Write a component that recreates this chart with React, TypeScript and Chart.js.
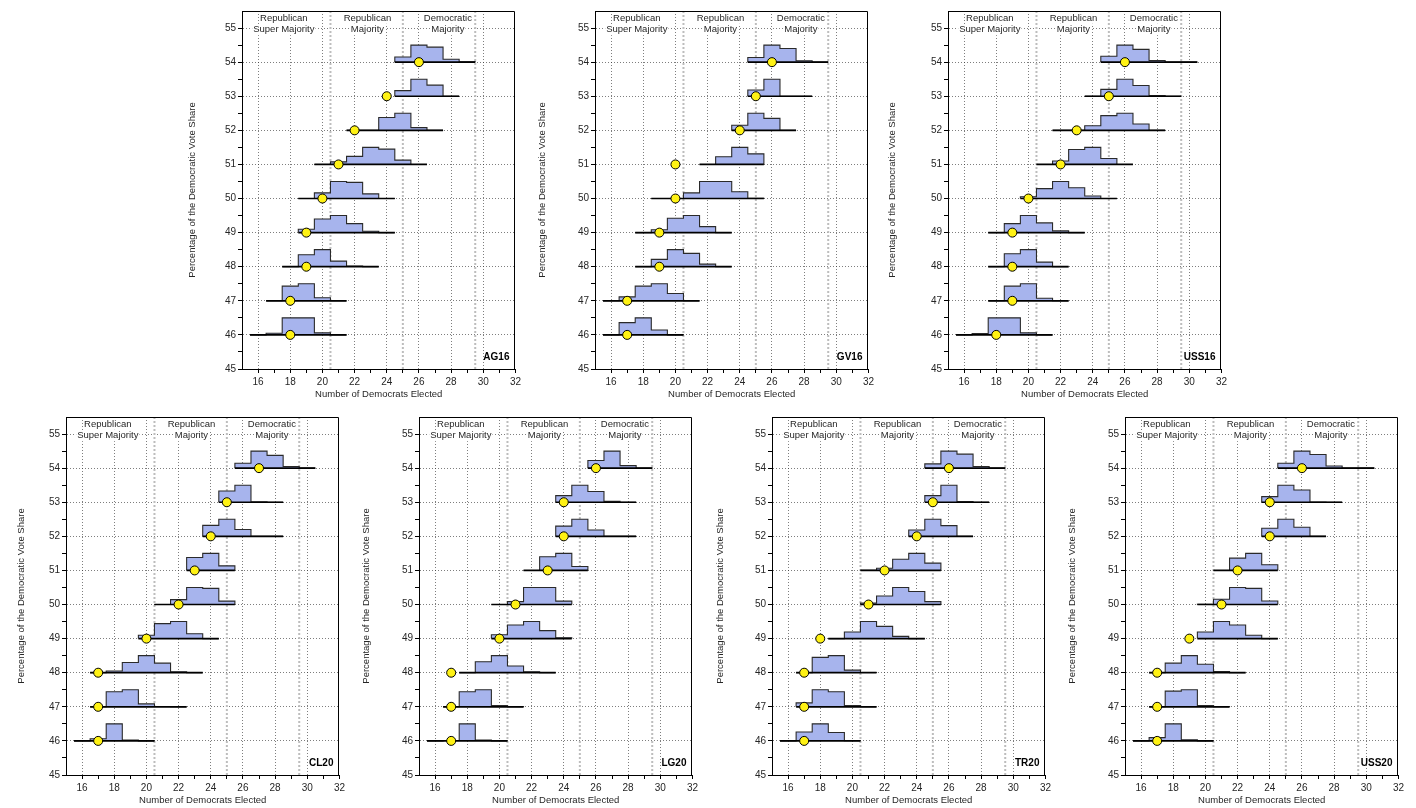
import React, { useEffect, useRef } from "react";
import { Chart, registerables } from "chart.js";

Chart.register(...registerables);

// ---------------- DATA ----------------
const voteShares = [46, 47, 48, 49, 50, 51, 52, 53, 54];
const xTickValues = [16, 18, 20, 22, 24, 26, 28, 30, 32];
const regionBounds = [20.5, 25, 29.5];
const regionLabelX = [17.6, 22.8, 27.8];
const regionLabelLines = [
  ["Republican", "Super Majority"],
  ["Republican", "Majority"],
  ["Democratic", "Majority"],
];
const panelNames = ["AG16", "GV16", "USS16", "CL20", "LG20", "TR20", "USS20"];

// first bin (number of Democrats elected) of each simulated distribution, rows 46..54
const ag16FirstBin = [16, 17, 18, 19, 19, 20, 22, 25, 25];
const ag16Freq = [
  [0, 0.1, 1, 1, 0.12, 0],
  [0, 0.86, 1, 0.18, 0],
  [0, 0.7, 1, 0.33, 0.04, 0],
  [0.2, 0.8, 1, 0.53, 0.08, 0],
  [0, 0.33, 1, 0.95, 0.27, 0],
  [0, 0.15, 0.47, 1, 0.9, 0.25, 0],
  [0, 0, 0.75, 1, 0.16, 0],
  [0.33, 1, 0.65, 0],
  [0.3, 1, 0.88, 0.17, 0.02],
];
const ag16Actual = [18, 18, 19, 19, 20, 21, 22, 24, 26];

const gv16FirstBin = [16, 16, 18, 18, 19, 22, 24, 25, 25];
const gv16Freq = [
  [0, 0.72, 1, 0.29, 0],
  [0, 0.23, 0.86, 1, 0.43, 0],
  [0, 0.43, 1, 0.78, 0.15, 0],
  [0, 0.17, 0.84, 1, 0.35, 0],
  [0, 0, 0.33, 1, 1, 0.4, 0.02],
  [0, 0.45, 1, 0.62],
  [0.3, 1, 0.7, 0],
  [0.37, 1, 0, 0],
  [0.27, 1, 0.8, 0.08, 0],
];
const gv16Actual = [17, 17, 19, 19, 20, 20, 24, 25, 26];

const uss16FirstBin = [16, 18, 18, 18, 20, 21, 22, 24, 25];
const uss16Freq = [
  [0, 0.08, 1, 1, 0.12, 0],
  [0, 0.86, 1, 0.15, 0],
  [0, 0.76, 1, 0.27, 0],
  [0, 0.53, 1, 0.57, 0.1, 0],
  [0.1, 0.58, 1, 0.63, 0.15, 0],
  [0, 0.2, 0.88, 1, 0.35, 0],
  [0, 0, 0.27, 0.86, 1, 0.37, 0],
  [0, 0.4, 1, 0.63, 0.04, 0],
  [0.35, 1, 0.75, 0.1, 0, 0],
];
const uss16Actual = [18, 19, 19, 19, 20, 22, 23, 25, 26];

const cl20FirstBin = [16, 17, 17, 20, 21, 23, 24, 25, 26];
const cl20Freq = [
  [0, 0.13, 1, 0.05, 0],
  [0, 0.88, 1, 0.17, 0.02, 0],
  [0, 0.1, 0.6, 1, 0.56, 0.05, 0],
  [0.2, 0.88, 1, 0.29, 0],
  [0, 0.29, 1, 0.95, 0.2],
  [0.76, 1, 0.27],
  [0.64, 1, 0.4, 0, 0],
  [0.66, 1, 0.02, 0],
  [0.29, 1, 0.75, 0.1, 0],
];
const cl20Actual = [17, 17, 17, 20, 22, 23, 24, 25, 27];

const lg20FirstBin = [16, 17, 18, 20, 20, 22, 24, 24, 26];
const lg20Freq = [
  [0, 0.02, 1, 0.05, 0],
  [0, 0.88, 1, 0.07, 0.01],
  [0, 0.64, 1, 0.39, 0.05, 0],
  [0.23, 0.8, 1, 0.47, 0.05],
  [0, 0.17, 1, 1, 0.2],
  [0, 0.8, 1, 0.23],
  [0.6, 1, 0.37, 0, 0],
  [0.39, 1, 0.63, 0.05, 0],
  [0.45, 1, 0.15, 0.01],
];
const lg20Actual = [17, 17, 17, 20, 21, 23, 24, 24, 26];

const tr20FirstBin = [16, 17, 17, 19, 21, 21, 24, 25, 25];
const tr20Freq = [
  [0, 0.52, 1, 0.49, 0.01],
  [0.23, 1, 0.88, 0.08, 0],
  [0, 0.9, 1, 0.15, 0.01],
  [0, 0.39, 1, 0.72, 0.13, 0],
  [0.08, 0.5, 1, 0.76, 0.17],
  [0.01, 0.13, 0.66, 1, 0.43],
  [0.37, 1, 0.63, 0],
  [0.39, 1, 0.04, 0],
  [0.25, 1, 0.82, 0.1, 0.01],
];
const tr20Actual = [17, 17, 17, 18, 21, 22, 24, 25, 26];

const uss20FirstBin = [16, 17, 17, 20, 20, 21, 24, 24, 25];
const uss20Freq = [
  [0, 0.19, 1, 0.07, 0],
  [0, 0.92, 1, 0.07, 0.01],
  [0, 0.56, 1, 0.5, 0.07, 0],
  [0.39, 1, 0.8, 0.2, 0],
  [0.01, 0.31, 1, 0.95, 0.21],
  [0, 0.72, 1, 0.33],
  [0.47, 1, 0.53, 0],
  [0.33, 1, 0.72, 0.01, 0],
  [0.29, 1, 0.8, 0.13, 0.01, 0],
];
const uss20Actual = [17, 17, 17, 19, 21, 22, 24, 24, 26];

// ---------------- LAYOUT / STYLE ----------------
const FONT = '"Liberation Sans", Arial, Helvetica, sans-serif';
const BLUE = "rgb(167, 180, 237)";
const DOT = "rgb(255, 242, 20)";
const TEXT = "#262626";
const GRID = "rgba(40,40,40,0.6)";
const PLOT_W = 274;
const PLOT_H = 360;
const panelPlotLeft = [242, 595, 948, 66, 419, 772, 1125];
const panelPlotTop = [9, 9, 9, 415, 415, 415, 415];
const panelYTitleX = [193, 543, 893, 22, 367, 721, 1073];

const panelData = [
  { first: ag16FirstBin, freq: ag16Freq, actual: ag16Actual },
  { first: gv16FirstBin, freq: gv16Freq, actual: gv16Actual },
  { first: uss16FirstBin, freq: uss16Freq, actual: uss16Actual },
  { first: cl20FirstBin, freq: cl20Freq, actual: cl20Actual },
  { first: lg20FirstBin, freq: lg20Freq, actual: lg20Actual },
  { first: tr20FirstBin, freq: tr20Freq, actual: tr20Actual },
  { first: uss20FirstBin, freq: uss20Freq, actual: uss20Actual },
];

const panelDecor = {
  id: "panelDecor",
  afterDraw(chart: any, _args: any, opts: any) {
    const { ctx, chartArea: a, scales } = chart;
    const x = scales.x;
    ctx.save();
    // frame (top + right)
    ctx.strokeStyle = "#000";
    ctx.lineWidth = 1;
    ctx.beginPath();
    const t = Math.round(a.top) + 0.5;
    const r = Math.round(a.right) - 0.5;
    ctx.moveTo(a.left, t);
    ctx.lineTo(r, t);
    ctx.lineTo(r, a.bottom);
    ctx.stroke();
    // region labels
    ctx.font = `9.5px ${FONT}`;
    ctx.textAlign = "center";
    ctx.textBaseline = "middle";
    regionLabelX.forEach((xv, i) => {
      const px = x.getPixelForValue(xv);
      regionLabelLines[i].forEach((txt, j) => {
        const py = a.top + 7.3 + j * 11.4;
        const w = ctx.measureText(txt).width;
        ctx.fillStyle = "#fff";
        ctx.fillRect(px - w / 2 - 1, py - 5.5, w + 2, 11);
        ctx.fillStyle = TEXT;
        ctx.fillText(txt, px, py);
      });
    });
    // panel name
    ctx.font = `bold 10px ${FONT}`;
    ctx.textAlign = "right";
    ctx.fillStyle = "#000";
    ctx.fillText(opts.name, a.right - 6, a.bottom - 12);
    ctx.restore();
  },
};

function buildDatasets(p: { first: number[]; freq: number[][]; actual: number[] }) {
  const ds: any[] = [];
  ds.push({
    data: voteShares.map((s, i) => ({ x: p.actual[i], y: s })),
    showLine: false,
    pointRadius: 4.5,
    pointBackgroundColor: DOT,
    pointBorderColor: "#000",
    pointBorderWidth: 1,
    order: 0,
  });
  voteShares.forEach((s, i) => {
    const e0 = p.first[i] - 0.5;
    const f = p.freq[i];
    ds.push({
      data: [
        { x: e0, y: s },
        { x: e0 + f.length, y: s },
      ],
      borderColor: "#000",
      borderWidth: 1.7,
      pointRadius: 0,
      fill: false,
      order: 1,
    });
    const pts: { x: number; y: number }[] = [{ x: e0, y: s }];
    f.forEach((v, k) => {
      pts.push({ x: e0 + k, y: s + 0.5 * v });
      pts.push({ x: e0 + k + 1, y: s + 0.5 * v });
    });
    pts.push({ x: e0 + f.length, y: s });
    ds.push({
      data: pts,
      borderColor: "#2a2a2a",
      borderWidth: 1.1,
      backgroundColor: BLUE,
      fill: { value: s },
      pointRadius: 0,
      order: 2,
    });
  });
  regionBounds.forEach((b) => {
    ds.push({
      data: [
        { x: b, y: 45 },
        { x: b, y: 55.5 },
      ],
      borderColor: "#bdbdbd",
      borderWidth: 2,
      borderDash: [2, 2],
      pointRadius: 0,
      fill: false,
      order: 3,
    });
  });
  return ds;
}

function Panel({ idx }: { idx: number }) {
  const ref = useRef<HTMLCanvasElement>(null);
  const plotLeft = panelPlotLeft[idx];
  const plotTop = panelPlotTop[idx];
  const canvasLeft = panelYTitleX[idx] - 6;
  const canvasTop = plotTop - 6;
  const yAxisW = plotLeft - canvasLeft;
  const xAxisH = 31;
  const padRight = 8;
  const W = yAxisW + PLOT_W + padRight;
  const H = 6 + PLOT_H + xAxisH;

  useEffect(() => {
    if (!ref.current) return;
    const chart = new Chart(ref.current, {
      type: "line",
      data: { datasets: buildDatasets(panelData[idx]) },
      plugins: [panelDecor],
      options: {
        animation: false,
        responsive: false,
        devicePixelRatio: 1,
        events: [],
        layout: { padding: { left: 0, top: 6, right: padRight, bottom: 0 } },
        plugins: {
          legend: { display: false },
          tooltip: { enabled: false },
          panelDecor: { name: panelNames[idx] },
        } as any,
        scales: {
          x: {
            type: "linear",
            min: 15,
            max: 32,
            afterFit: (s: any) => {
              s.height = xAxisH;
            },
            ticks: {
              stepSize: 1,
              autoSkip: false,
              maxRotation: 0,
              minRotation: 0,
              padding: 3,
              color: TEXT,
              font: { family: FONT, size: 10 },
              callback: (v: any) => (xTickValues.includes(Number(v)) ? String(v) : ""),
            },
            grid: {
              color: (c: any) => {
                const v = c.tick ? c.tick.value : 0;
                return v % 2 === 0 && v >= 16 && v <= 30 ? GRID : "rgba(0,0,0,0)";
              },
              tickColor: (c: any) => (c.tick && c.tick.value > 15 ? "#000" : "rgba(0,0,0,0)"),
              tickLength: 4,
              lineWidth: 1,
              drawTicks: true,
            },
            border: { display: true, color: "#000", width: 1, dash: [1, 2] },
            title: {
              display: true,
              text: "Number of Democrats Elected",
              color: TEXT,
              font: { family: FONT, size: 9.5, lineHeight: 1.2 },
              padding: { top: 0, bottom: 0 },
            },
          },
          y: {
            type: "linear",
            min: 45,
            max: 55.5,
            afterFit: (s: any) => {
              s.width = yAxisW;
            },
            ticks: {
              stepSize: 0.5,
              autoSkip: false,
              padding: 2,
              color: TEXT,
              font: { family: FONT, size: 10 },
              callback: (v: any) => (Number.isInteger(Number(v)) ? String(v) : ""),
            },
            grid: {
              color: (c: any) => {
                const v = c.tick ? c.tick.value : 0;
                return Number.isInteger(v) && v > 45 ? GRID : "rgba(0,0,0,0)";
              },
              tickColor: (c: any) => (c.tick && c.tick.value < 55.5 ? "#000" : "rgba(0,0,0,0)"),
              tickLength: 4,
              lineWidth: 1,
              drawTicks: true,
            },
            border: { display: true, color: "#000", width: 1, dash: [1, 2] },
            title: {
              display: true,
              text: "Percentage of the Democratic Vote Share",
              color: TEXT,
              font: { family: FONT, size: 9.5, lineHeight: 1.2 },
              padding: { top: 0, bottom: 0 },
            },
          },
        },
      } as any,
    });
    return () => chart.destroy();
  }, [idx]);

  return (
    <canvas
      ref={ref}
      width={W}
      height={H}
      style={{ position: "absolute", left: canvasLeft, top: canvasTop, width: W, height: H }}
    />
  );
}

export default function App() {
  return (
    <div
      style={{
        position: "absolute",
        left: 0,
        top: 0,
        width: 1416,
        height: 808,
        background: "#fff",
        overflow: "hidden",
      }}
    >
      {panelNames.map((_, i) => (
        <Panel key={i} idx={i} />
      ))}
    </div>
  );
}
